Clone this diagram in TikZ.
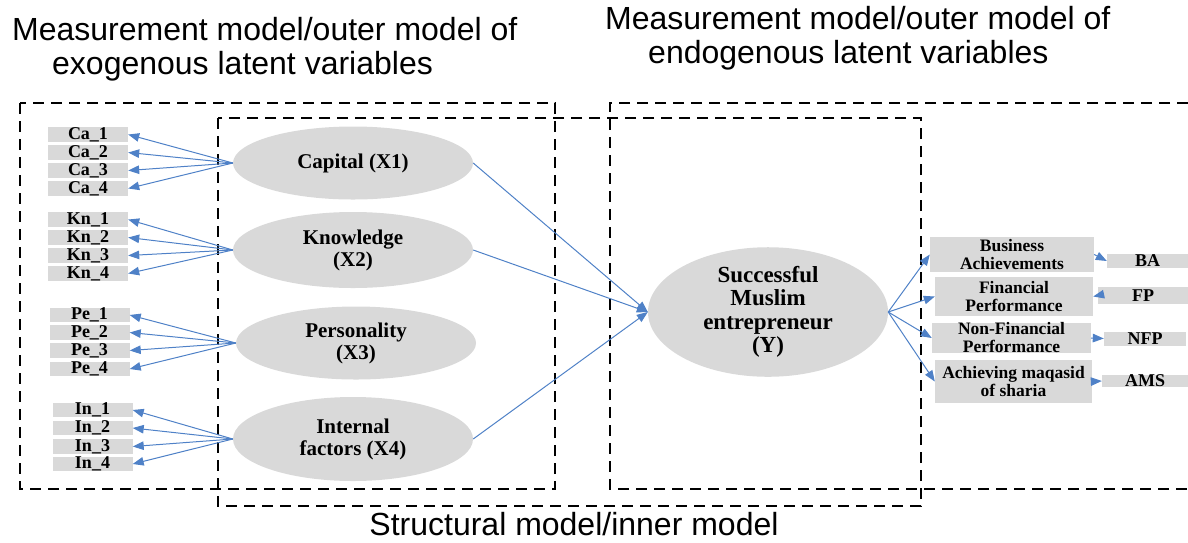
\documentclass[tikz,border=0pt]{standalone}
\usepackage{fontspec}
\setmainfont{Liberation Serif}
\newfontfamily\headfont{Liberation Sans}
\usetikzlibrary{shapes.geometric,arrows.meta}
\definecolor{latgray}{RGB}{217,217,217}
\definecolor{pathblue}{RGB}{79,129,199}

\begin{document}
\begin{tikzpicture}[x=1pt,y=-1pt,
  latent/.style={ellipse,fill=latgray,inner sep=0pt,minimum width=240pt,align=center,
    font=\bfseries\fontsize{21}{22}\selectfont},
  ind/.style={fill=latgray,inner sep=0pt,minimum width=80pt,minimum height=14pt,
    font=\bfseries\fontsize{18}{18}\selectfont},
  dim/.style={fill=latgray,inner sep=0pt,align=center,font=\bfseries\fontsize{17.5}{18}\selectfont},
  load/.style={draw=pathblue,line width=1pt,-{Triangle[length=11pt,width=8.5pt]}},
  frame/.style={line width=2.4pt,dash pattern=on 11pt off 7pt},
  head/.style={font=\headfont\fontsize{32}{34}\selectfont,align=left,inner sep=0pt}]
  \useasboundingbox (0,0) rectangle (1188,542);
  % titles
  \node[head,anchor=north west] (exotitle) at (12,17)
    {Measurement model/outer model of\\\hspace*{40pt}exogenous latent variables};
  \node[head,anchor=north west] (endotitle) at (605,6)
    {Measurement model/outer model of\\\hspace*{43pt}endogenous latent variables};
  \node[head,anchor=base] (innertitle) at (574,535) {Structural model/inner model};
  % dashed frames
  \draw[frame] (20,103) rectangle (555,489);
  \draw[frame] (218,118) rectangle (921,506);
  \draw[frame] (1188,103) -- (610,103) -- (610,489) -- (1188,489);
  % latent variables
  \node[latent,minimum height=73pt] (cap) at (353,163) {Capital (X1)};
  \node[latent,minimum height=76pt] (kno) at (353,250) {Knowledge\\(X2)};
  \node[latent,minimum height=73pt] (per) at (356,343) {Personality\\(X3)};
  \node[latent,minimum height=84pt] (int) at (353,439) {Internal\\factors (X4)};
  \node[latent,minimum height=115pt,font=\bfseries\fontsize{23}{23.5}\selectfont] (y) at (768,312)
    {Successful\\Muslim\\entrepreneur\\(Y)};
  % indicators of X1..X4
  \node[ind] (ca1) at (88,134.5) {Ca\_1};
  \node[ind] (ca2) at (88,152.5) {Ca\_2};
  \node[ind] (ca3) at (88,170.5) {Ca\_3};
  \node[ind] (ca4) at (88,188.5) {Ca\_4};
  \node[ind] (kn1) at (88,219.5) {Kn\_1};
  \node[ind] (kn2) at (88,237.5) {Kn\_2};
  \node[ind] (kn3) at (88,255.5) {Kn\_3};
  \node[ind] (kn4) at (88,273.5) {Kn\_4};
  \node[ind] (pe1) at (89.5,315) {Pe\_1};
  \node[ind] (pe2) at (89.5,332.5) {Pe\_2};
  \node[ind] (pe3) at (89.5,350.5) {Pe\_3};
  \node[ind] (pe4) at (89.5,369) {Pe\_4};
  \node[ind] (in1) at (92.5,410) {In\_1};
  \node[ind] (in2) at (92.5,428) {In\_2};
  \node[ind] (in3) at (92.5,446.5) {In\_3};
  \node[ind] (in4) at (92.5,464) {In\_4};
  % dimensions of Y
  \node[dim,minimum width=164pt,minimum height=35pt] (busach) at (1012,254.5) {Business\\Achievements};
  \node[dim,minimum width=158pt,minimum height=39pt] (finperf) at (1014,296.5) {Financial\\Performance};
  \node[dim,minimum width=159pt,minimum height=30pt] (nonfin) at (1011.5,338) {Non-Financial\\Performance};
  \node[dim,minimum width=157pt,minimum height=43pt] (maqasid) at (1013.5,381.5) {Achieving maqasid\\of sharia};
  \node[ind,minimum width=81pt] (ba) at (1147.5,261) {BA};
  \node[ind,minimum width=90pt,minimum height=17pt] (fp) at (1143,295.5) {FP};
  \node[ind,minimum width=82pt] (nfp) at (1145,338.5) {NFP};
  \node[ind,minimum width=86pt,minimum height=12pt] (ams) at (1145,381) {AMS};
  % outer loadings
  \draw[load] (cap.west) -- (ca1.east);
  \draw[load] (cap.west) -- (ca2.east);
  \draw[load] (cap.west) -- (ca3.east);
  \draw[load] (cap.west) -- (ca4.east);
  \draw[load] (kno.west) -- (kn1.east);
  \draw[load] (kno.west) -- (kn2.east);
  \draw[load] (kno.west) -- (kn3.east);
  \draw[load] (kno.west) -- (kn4.east);
  \draw[load] (per.west) -- (pe1.east);
  \draw[load] (per.west) -- (pe2.east);
  \draw[load] (per.west) -- (pe3.east);
  \draw[load] (per.west) -- (pe4.east);
  \draw[load] (int.west) -- (in1.east);
  \draw[load] (int.west) -- (in2.east);
  \draw[load] (int.west) -- (in3.east);
  \draw[load] (int.west) -- (in4.east);
  % inner paths
  \draw[load] (cap.east) -- (y.west);
  \draw[load] (kno.east) -- (y.west);
  \draw[load] (int.east) -- (y.west);
  % Y to its dimensions
  \draw[load] (y.east) -- (busach.west);
  \draw[load] (y.east) -- (finperf.west);
  \draw[load] (y.east) -- (nonfin.west);
  \draw[load] (y.east) -- (maqasid.west);
  \draw[load] (busach.east) -- (ba.west);
  \draw[load] (fp.west) -- (finperf.east);
  \draw[load] (nonfin.east) -- (nfp.west);
  \draw[load] (maqasid.east) -- (ams.west);
\end{tikzpicture}
\end{document}
